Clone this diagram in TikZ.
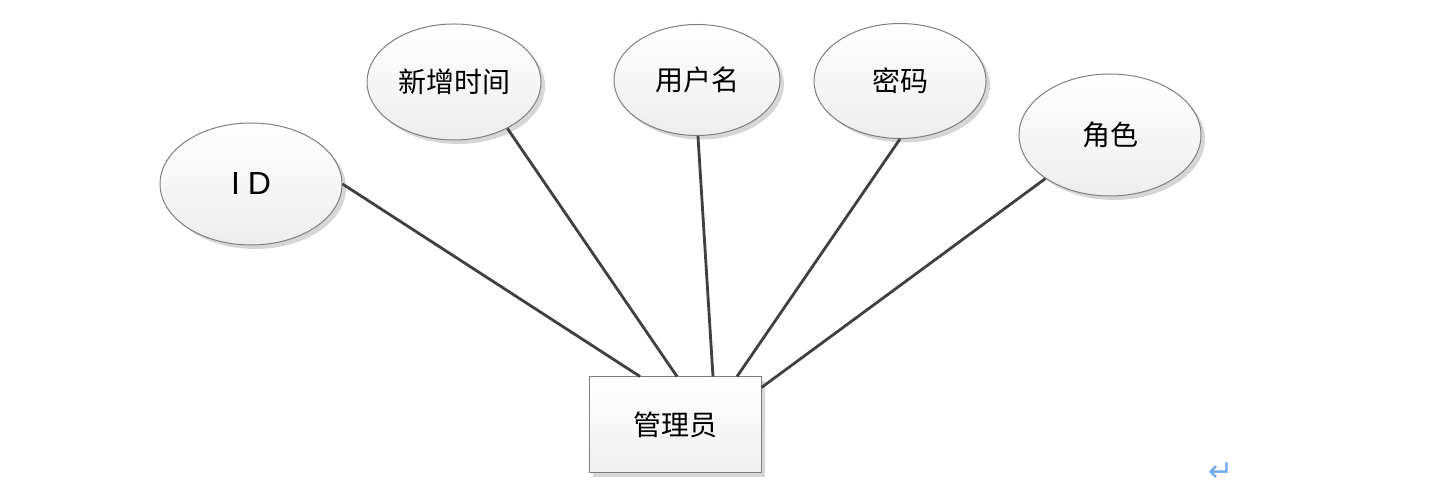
\documentclass[tikz,border=0pt]{standalone}
\usepackage{fontspec}
\setmainfont{Liberation Sans}
\newfontfamily\cjk{Noto Sans CJK SC}
\newfontfamily\djv{DejaVu Sans}
\usetikzlibrary{shapes.geometric,shadows,calc}
\definecolor{edgec}{HTML}{404040}
\definecolor{bordc}{HTML}{7F7F7F}
\definecolor{shadc}{HTML}{D6D6D6}
\definecolor{retc}{HTML}{6FA8F0}
\tikzset{
  attr/.style={ellipse, draw=bordc, line width=0.5pt, inner sep=0pt,
    top color=white, bottom color=black!7,
    drop shadow={shadow xshift=2pt, shadow yshift=-2pt, fill=shadc, opacity=1},
    font=\cjk\fontsize{14}{16}\selectfont},
  ent/.style={rectangle, draw=bordc, line width=0.5pt, inner sep=0pt,
    top color=white, bottom color=black!6,
    drop shadow={shadow xshift=2pt, shadow yshift=-2pt, fill=shadc, opacity=1},
    minimum width=86pt, minimum height=48pt,
    font=\cjk\fontsize{14}{16}\selectfont},
  link/.style={draw=edgec, line width=1.4pt}
}
\begin{document}
\begin{tikzpicture}[x=0.5pt,y=-0.5pt]
\useasboundingbox (0,0) rectangle (1448,490);
\node[attr, minimum width=91pt, minimum height=61pt] (id) at (251,184)
  {\fontsize{16}{18}\selectfont\rmfamily I\hspace{0.25em}D};
\node[attr, minimum width=87pt, minimum height=58pt] (ts) at (454,82) {新增时间};
\node[attr, minimum width=83pt, minimum height=55.5pt] (un) at (697,80) {用户名};
\node[attr, minimum width=86pt, minimum height=57.5pt] (pw) at (900,81) {密码};
\node[attr, minimum width=91pt, minimum height=61pt] (role) at (1110,135) {角色};
\node[ent] (m) at (675,425) {管理员};
\draw[link] (id.0) -- ($(m.north)+(-35,0)$);
\draw[link] (ts.-41.5) -- ($(m.north)+(2,0)$);
\draw[link] (un.-89) -- ($(m.north)+(38,0)$);
\draw[link] (pw.-90) -- ($(m.north)+(62,0)$);
\draw[link] (role.-146.7) -- ($(m.north east)+(0,11)$);
\node[text=retc, font=\djv\fontsize{15}{16}\selectfont, inner sep=0pt] (ret) at (1221,472) {↵};
\end{tikzpicture}
\end{document}
